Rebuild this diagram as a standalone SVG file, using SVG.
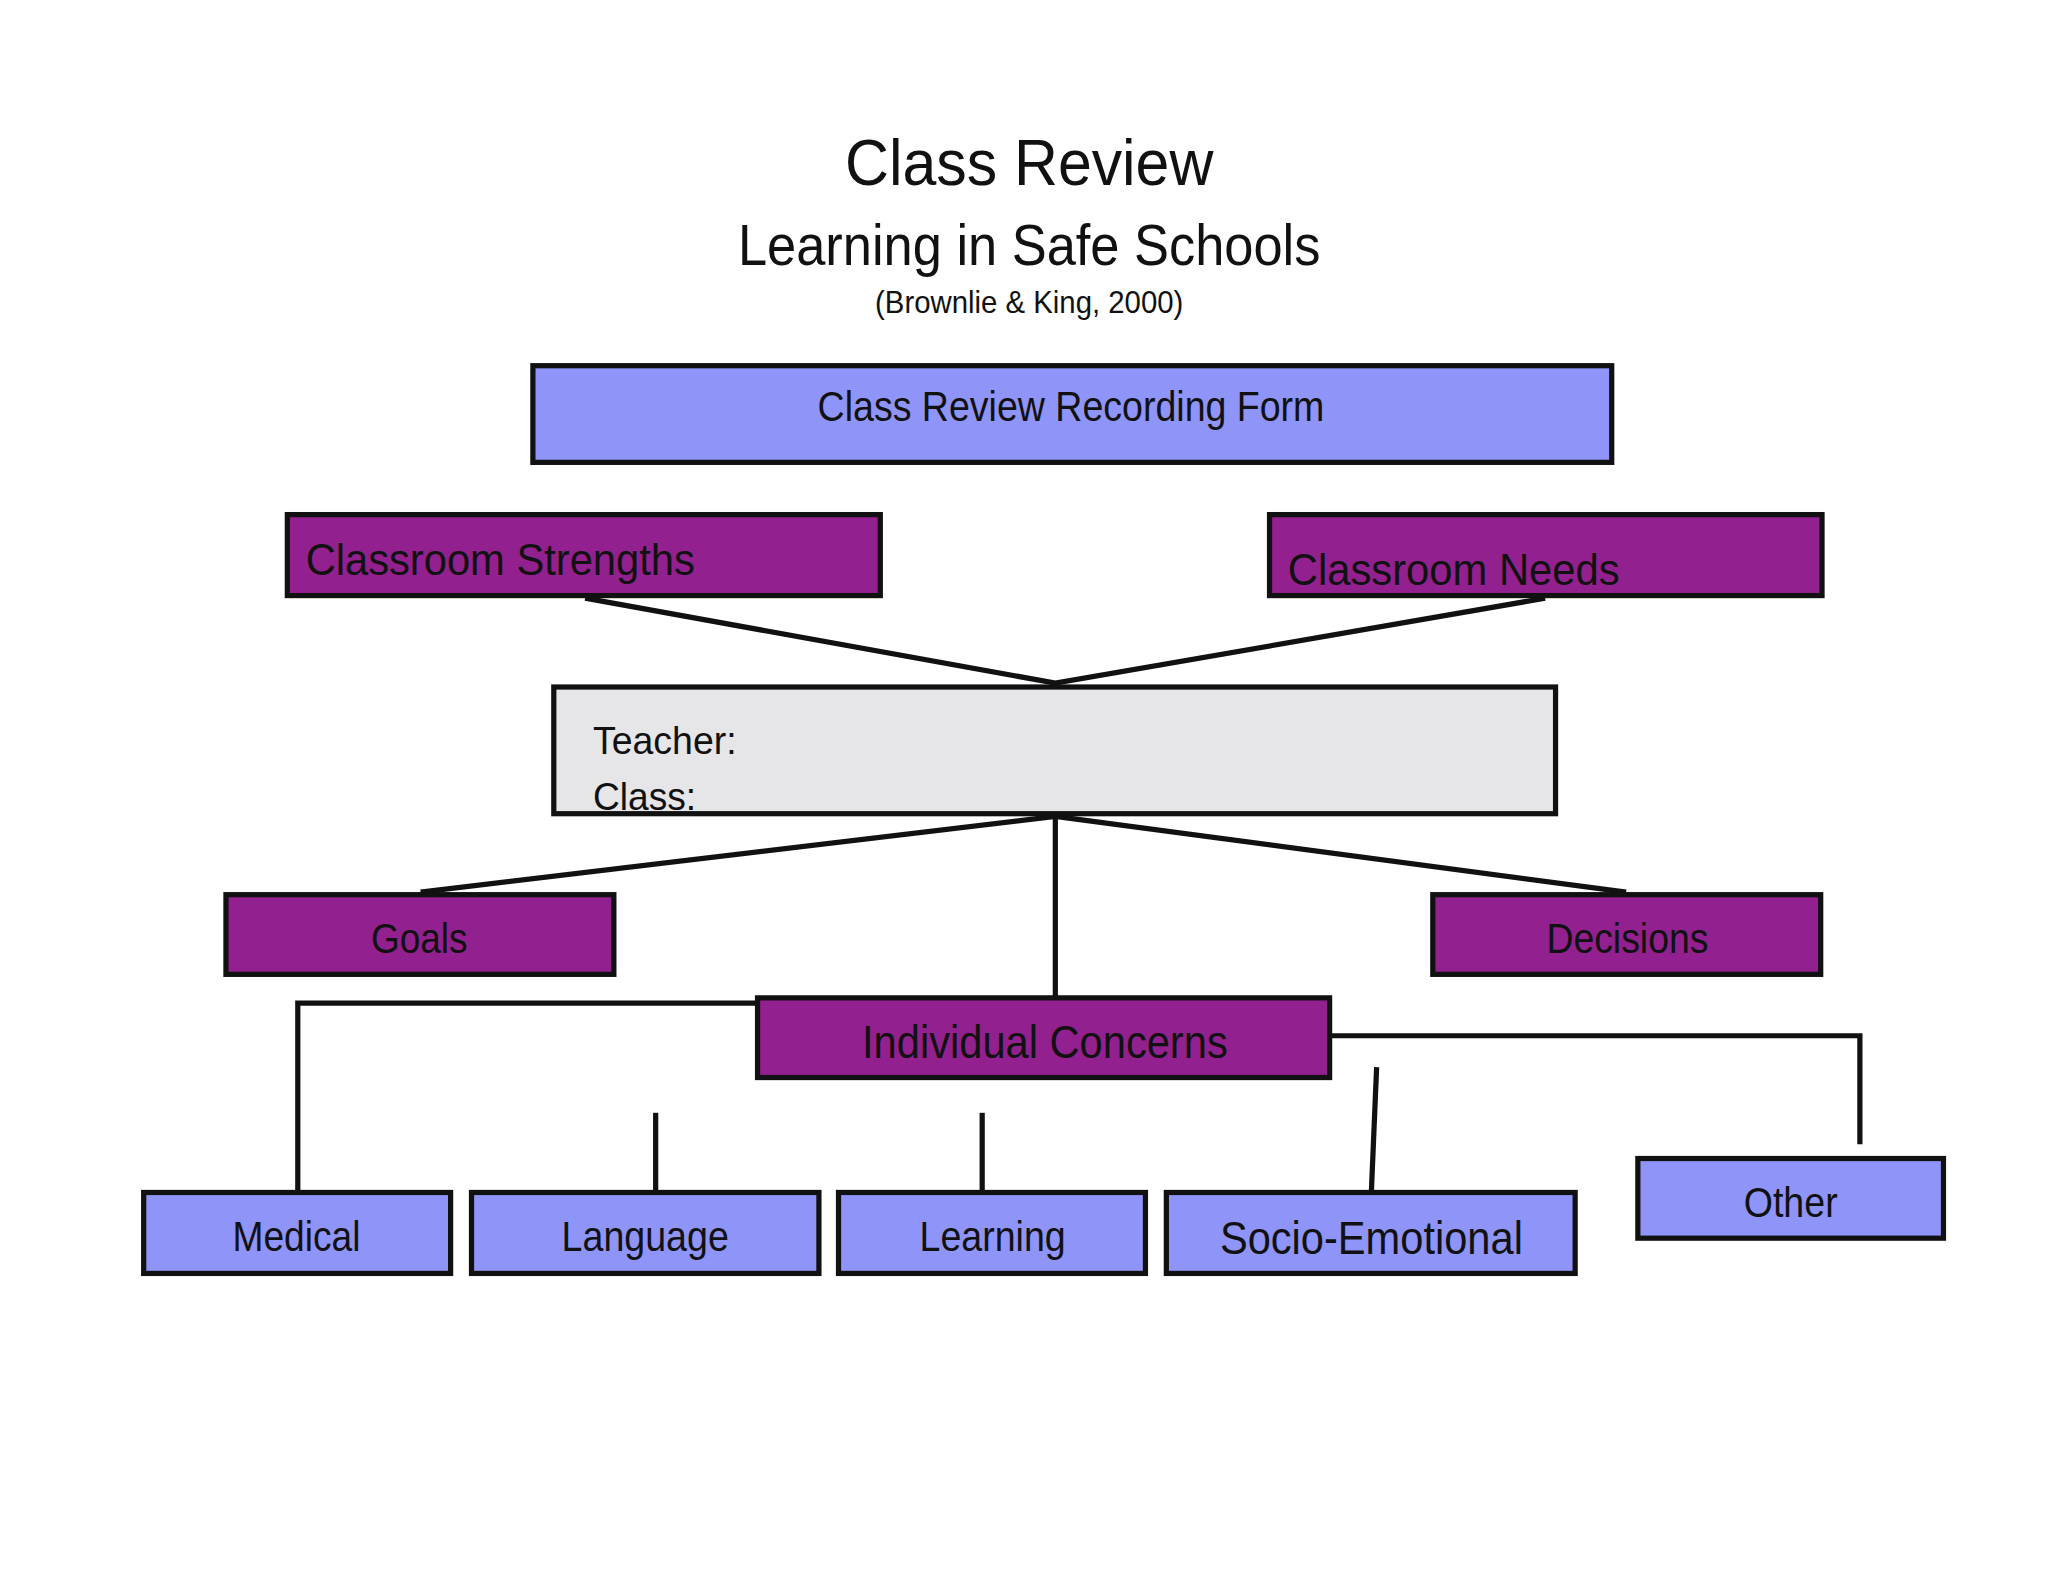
<svg xmlns="http://www.w3.org/2000/svg" width="2048" height="1582" viewBox="0 0 2048 1582">
<style>
.b{stroke:#111;stroke-width:4}
.blue{fill:#8f94f8}.pur{fill:#93208f}.gray{fill:#e6e5e8}
text{font-family:"Liberation Sans",Arial,sans-serif;fill:#111}
.c{text-anchor:middle}
.ln{fill:none;stroke:#111;stroke-width:4}
</style>
<rect width="2048" height="1582" fill="#fff"/>
<g transform="scale(1.3061)">
<g id="title">
<text class="c" x="788" y="142" font-size="50" textLength="282" lengthAdjust="spacingAndGlyphs">Class Review</text>
<text class="c" x="788" y="203" font-size="44" textLength="446" lengthAdjust="spacingAndGlyphs">Learning in Safe Schools</text>
<text class="c" x="788" y="240" font-size="24" textLength="236" lengthAdjust="spacingAndGlyphs">(Brownlie &amp; King, 2000)</text>
</g>
<g id="connectors">
<polyline class="ln" points="448,458 808,523 1183,458"/>
<line class="ln" x1="808" y1="625" x2="322" y2="683"/>
<line class="ln" x1="808" y1="625" x2="1245" y2="683"/>
<line class="ln" x1="808" y1="625" x2="808" y2="763"/>
<polyline class="ln" points="580,768 228,768 228,912"/>
<polyline class="ln" points="1018,793 1424,793 1424,876"/>
<line class="ln" x1="502" y1="852" x2="502" y2="912"/>
<line class="ln" x1="752" y1="852" x2="752" y2="912"/>
<line class="ln" x1="1054" y1="817" x2="1050" y2="912"/>
</g>
<g id="form"><rect class="b blue" x="408" y="280" width="826" height="74"/><text class="c" x="820" y="322" font-size="32" textLength="388" lengthAdjust="spacingAndGlyphs">Class Review Recording Form</text></g>
<g id="strengths"><rect class="b pur" x="220" y="394" width="454" height="62"/><text x="234" y="440" font-size="34" textLength="298" lengthAdjust="spacingAndGlyphs">Classroom Strengths</text></g>
<g id="needs"><rect class="b pur" x="972" y="394" width="423" height="62"/><text x="986" y="448" font-size="34" textLength="254" lengthAdjust="spacingAndGlyphs">Classroom Needs</text></g>
<g id="teacher"><rect class="b gray" x="424" y="526" width="767" height="97"/><text x="454" y="577" font-size="30" textLength="110" lengthAdjust="spacingAndGlyphs">Teacher:</text><text x="454" y="620" font-size="30" textLength="79" lengthAdjust="spacingAndGlyphs">Class:</text></g>
<g id="goals"><rect class="b pur" x="173" y="685" width="297" height="61"/><text class="c" x="321" y="730" font-size="32" textLength="74" lengthAdjust="spacingAndGlyphs">Goals</text></g>
<g id="decisions"><rect class="b pur" x="1097" y="685" width="297" height="61"/><text class="c" x="1246" y="730" font-size="32" textLength="124" lengthAdjust="spacingAndGlyphs">Decisions</text></g>
<g id="concerns"><rect class="b pur" x="580" y="764" width="438" height="61"/><text class="c" x="800" y="810" font-size="36" textLength="280" lengthAdjust="spacingAndGlyphs">Individual Concerns</text></g>
<g id="medical"><rect class="b blue" x="110" y="913" width="235" height="62"/><text class="c" x="227" y="958" font-size="32" textLength="98" lengthAdjust="spacingAndGlyphs">Medical</text></g>
<g id="language"><rect class="b blue" x="361" y="913" width="266" height="62"/><text class="c" x="494" y="958" font-size="32" textLength="128" lengthAdjust="spacingAndGlyphs">Language</text></g>
<g id="learning"><rect class="b blue" x="642" y="913" width="235" height="62"/><text class="c" x="760" y="958" font-size="32" textLength="112" lengthAdjust="spacingAndGlyphs">Learning</text></g>
<g id="socio"><rect class="b blue" x="893" y="913" width="313" height="62"/><text class="c" x="1050" y="960" font-size="36" textLength="232" lengthAdjust="spacingAndGlyphs">Socio-Emotional</text></g>
<g id="other"><rect class="b blue" x="1254" y="887" width="234" height="61"/><text class="c" x="1371" y="932" font-size="32" textLength="72" lengthAdjust="spacingAndGlyphs">Other</text></g>
</g>
</svg>
